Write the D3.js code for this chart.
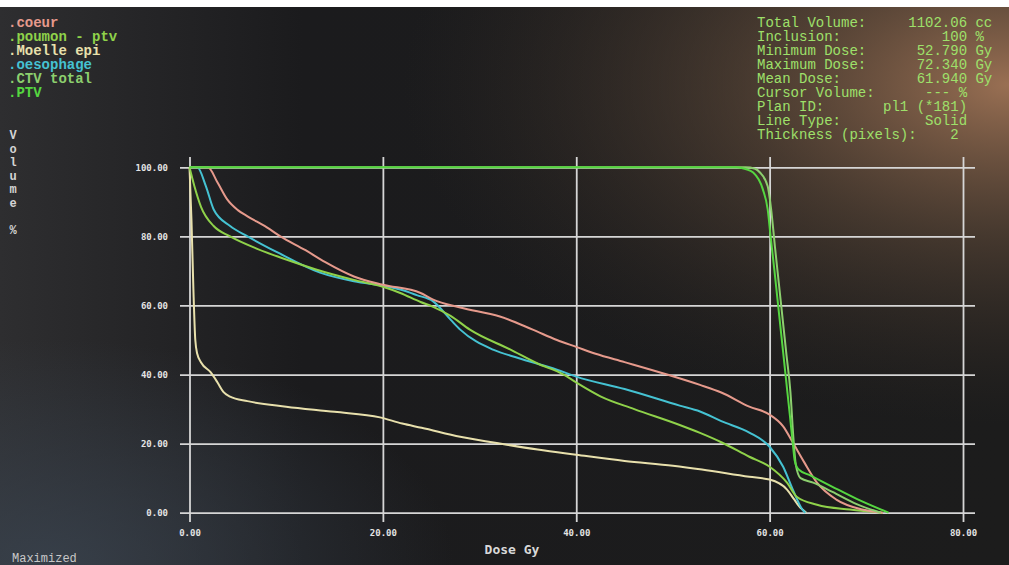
<!DOCTYPE html>
<html>
<head>
<meta charset="utf-8">
<script src="https://cdn.jsdelivr.net/npm/d3@7"></script>
<style>
body { margin: 0; background: #1b1b1d; overflow: hidden; }
text { font-family: "Liberation Mono", "DejaVu Sans Mono", monospace; }
</style>
</head>
<body>
<div id="dvh"></div>
<script>
const width = 1009, height = 565;

// [dose Gy, volume %]
const coeur = [[0,100],[1.9,100],[2.9,95.6],[3.9,90.7],[5,87.6],[6,85.8],[8,82.6],[9.4,80],[12,76],[14,72.6],[17,68.4],[20,66],[23.9,63.6],[25.2,61.7],[28,59.4],[32.1,56.8],[35.5,53],[38,50],[40,48],[42,46],[45,43.6],[49.4,40],[52.8,37],[55,34.8],[57.9,30.7],[60,28.4],[61.4,25],[62.4,20.3],[63.6,14.5],[64.9,8.7],[66.9,3.8],[69.6,0.9],[71.7,0]];
const poumon = [[0,100],[0.5,94.6],[1.2,88.5],[2.5,83],[4.2,80],[7,76.4],[10,73.3],[13,70.5],[17,67.4],[20,65.4],[21.8,63.6],[23.9,61],[25.2,59.6],[27,57],[29,53],[33.2,47.2],[36,43.2],[38.7,40],[40,37.7],[42.5,33.7],[46,30],[50.7,25.4],[52.8,23.1],[55,20.4],[57.9,16.2],[60,13.3],[61.8,8.7],[62.8,4.6],[64.9,2.3],[68.3,0.9],[71.7,0]];
const moelle = [[0,100],[0.2,85],[0.4,65],[0.6,50],[0.8,46],[1.2,43.5],[2.2,40.6],[2.9,37.7],[3.5,35],[4.2,33.6],[6,32.3],[10,30.7],[15,29.2],[19.7,27.6],[22,25.8],[24,24.6],[28,22],[32.8,19.7],[36,18.3],[40,16.8],[45,15],[50,13.6],[53,12.5],[57.9,10.4],[60,9.6],[61.8,6.7],[62.5,4],[63.1,1.7],[63.8,0]];
const oesophage = [[0,100],[0.8,100],[1.7,94.5],[2.5,87.8],[4.2,83],[6,80],[9,75.5],[13.5,69.5],[17,67],[20.4,65.5],[21.8,64.6],[23.5,63],[25.2,61.2],[27,55.9],[28,53],[31.4,47.2],[34,44.8],[38,41.4],[40,39.4],[45,35.8],[50.7,31],[52.8,29.3],[55,26.5],[57.9,23.2],[60,19.1],[61.4,13.3],[62.4,6.7],[63.4,0.9],[63.7,0]];
const ctvTotal = [[0,100],[57.5,100],[58.5,99.6],[59,98.5],[59.8,94.5],[60.15,88],[60.55,77],[60.95,66.5],[61.35,56],[61.75,45.5],[62.15,35],[62.45,22],[62.7,14],[63.2,10],[64.5,8.7],[66.5,6],[69,2.5],[71.5,0]];
const ptv = [[0,100],[56.6,100],[57.5,99.5],[58.3,98.5],[59.3,93.6],[59.8,87.8],[60.1,80],[60.5,70],[60.9,59.5],[61.3,49],[61.7,38.5],[62.1,28],[62.4,20],[62.6,15],[63,12.5],[64.2,10.8],[66.5,7.5],[69,4],[72.3,0]];

const structures = [".coeur", ".poumon - ptv", ".Moelle epi", ".oesophage", ".CTV total", ".PTV"];
const colors = ["#e69a8c", "#8fd24a", "#e8e0ac", "#45c2d2", "#8ccf6e", "#55d640"];
const series = [coeur, poumon, moelle, oesophage, ctvTotal, ptv];
const drawOrder = [2, 3, 1, 0, 4, 5];

const doseTicks = [0, 20, 40, 60, 80];
const volumeTicks = [0, 20, 40, 60, 80, 100];
const yLetters = ["V", "o", "l", "u", "m", "e", "", "%"];

const infoLines = [
  "Total Volume:     1102.06 cc",
  "Inclusion:            100 %",
  "Minimum Dose:      52.790 Gy",
  "Maximum Dose:      72.340 Gy",
  "Mean Dose:         61.940 Gy",
  "Cursor Volume:      --- %",
  "Plan ID:       pl1 (*181)",
  "Line Type:          Solid",
  "Thickness (pixels):    2"
];

const svg = d3.select("#dvh").append("svg")
  .attr("width", width)
  .attr("height", height);

// photo background: dark screen, warm glare top right
const defs = svg.append("defs");
const glare = defs.append("radialGradient").attr("id", "glare")
  .attr("cx", 1).attr("cy", 0.15).attr("r", 0.6);
glare.append("stop").attr("offset", 0).attr("stop-color", "#a07456").attr("stop-opacity", 0.95);
glare.append("stop").attr("offset", 0.45).attr("stop-color", "#6e5440").attr("stop-opacity", 0.5);
glare.append("stop").attr("offset", 1).attr("stop-color", "#3a3028").attr("stop-opacity", 0);
const side = defs.append("linearGradient").attr("id", "side")
  .attr("x1", 0).attr("x2", 1).attr("y1", 0).attr("y2", 0);
side.append("stop").attr("offset", 0).attr("stop-color", "#2e2e30");
side.append("stop").attr("offset", 0.3).attr("stop-color", "#1b1b1d");
side.append("stop").attr("offset", 1).attr("stop-color", "#1c1c1c");
const lowLeft = defs.append("radialGradient").attr("id", "lowLeft")
  .attr("cx", 0.05).attr("cy", 1).attr("r", 0.4);
lowLeft.append("stop").attr("offset", 0).attr("stop-color", "#3a4450").attr("stop-opacity", 0.8);
lowLeft.append("stop").attr("offset", 1).attr("stop-color", "#3a4450").attr("stop-opacity", 0);

svg.append("rect").attr("width", width).attr("height", height).attr("fill", "url(#side)");
svg.append("rect").attr("width", width).attr("height", height).attr("fill", "url(#lowLeft)");
svg.append("rect").attr("width", width).attr("height", height).attr("fill", "url(#glare)");
svg.append("rect").attr("width", width).attr("height", 7).attr("fill", "#ffffff");

const x = d3.scaleLinear().domain([0, 80]).range([189.5, 963]);
const y = d3.scaleLinear().domain([0, 100]).range([512.7, 167.3]);

const gridColor = "#d6d6d6";

// horizontal grid (y axis)
const yAxis = svg.append("g")
  .attr("transform", "translate(180,0)")
  .call(d3.axisLeft(y).tickValues(volumeTicks)
    .tickSize(-(975 - 180))
    .tickPadding(12)
    .tickFormat(d3.format(".2f")));
yAxis.select(".domain").remove();
yAxis.selectAll("line").attr("stroke", gridColor).attr("stroke-width", 1.8);
yAxis.selectAll("text")
  .attr("fill", "#e4e4e4")
  .attr("font-size", 9)
  .attr("font-weight", "bold")
  .style("font-family", "'DejaVu Sans Mono', monospace");

// vertical grid (x axis)
const xAxis = svg.append("g")
  .attr("transform", "translate(0,522)")
  .call(d3.axisBottom(x).tickValues(doseTicks)
    .tickSize(-(522 - 157))
    .tickPadding(8)
    .tickFormat(d3.format(".2f")));
xAxis.select(".domain").remove();
xAxis.selectAll("line").attr("stroke", gridColor).attr("stroke-width", 1.8);
xAxis.selectAll("text")
  .attr("fill", "#e4e4e4")
  .attr("font-size", 9)
  .attr("font-weight", "bold")
  .style("font-family", "'DejaVu Sans Mono', monospace");

const line = d3.line()
  .x(d => x(d[0]))
  .y(d => y(d[1]))
  .curve(d3.curveMonotoneX);

svg.append("g").selectAll("path")
  .data(drawOrder)
  .join("path")
  .attr("d", i => line(series[i]))
  .attr("fill", "none")
  .attr("stroke", i => colors[i])
  .attr("stroke-width", 2)
  .attr("stroke-linejoin", "round");

// legend, top left
svg.append("g").selectAll("text")
  .data(structures)
  .join("text")
  .attr("x", 8)
  .attr("y", (d, i) => 27 + i * 14)
  .attr("font-size", 14)
  .attr("font-weight", "bold")
  .attr("fill", (d, i) => colors[i])
  .text(d => d);

// plan info, top right
svg.append("g").selectAll("text")
  .data(infoLines)
  .join("text")
  .attr("x", 757)
  .attr("y", (d, i) => 27 + i * 14)
  .attr("font-size", 14)
  .attr("fill", "#9ee06a")
  .style("white-space", "pre")
  .attr("xml:space", "preserve")
  .text(d => d);

// vertical axis caption
svg.append("g").selectAll("text")
  .data(yLetters)
  .join("text")
  .attr("x", 13)
  .attr("y", (d, i) => 139 + i * 13.6)
  .attr("text-anchor", "middle")
  .attr("font-size", 12)
  .attr("font-weight", "bold")
  .attr("fill", "#d4d4d4")
  .text(d => d);

svg.append("text")
  .attr("x", 512)
  .attr("y", 554)
  .attr("text-anchor", "middle")
  .attr("font-size", 13)
  .attr("font-weight", "bold")
  .attr("fill", "#d8d8d8")
  .style("font-family", "'DejaVu Sans Mono', monospace")
  .text("Dose Gy");

svg.append("text")
  .attr("x", 12)
  .attr("y", 562)
  .attr("font-size", 12)
  .attr("fill", "#c8c8c8")
  .text("Maximized");
</script>
</body>
</html>
